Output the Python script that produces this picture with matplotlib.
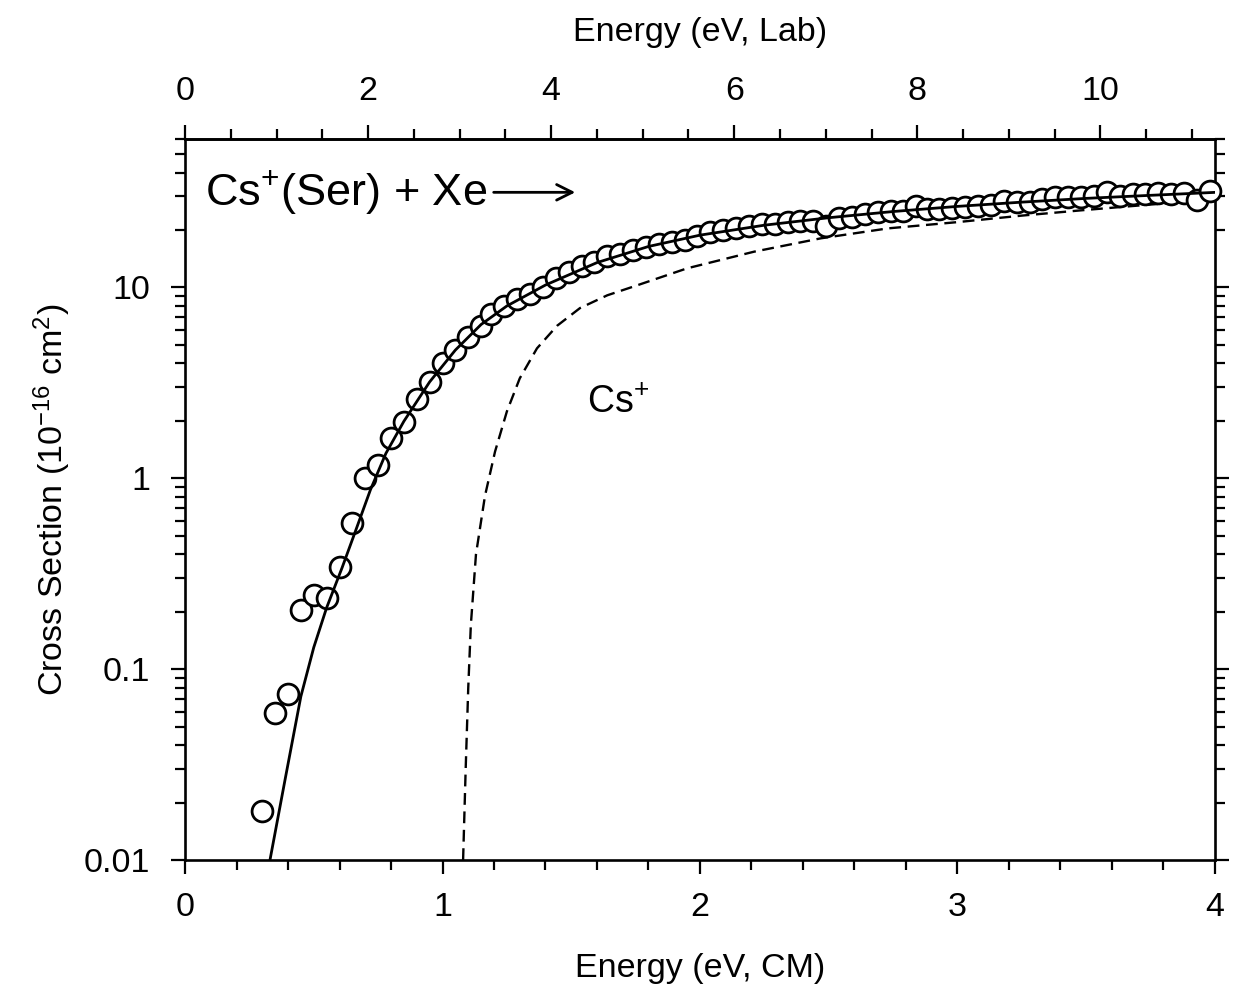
import numpy as np
import matplotlib.pyplot as plt
from matplotlib.ticker import MultipleLocator, FixedLocator, LogLocator, NullFormatter

plt.rcParams['font.family'] = 'Liberation Sans'
plt.rcParams['mathtext.fontset'] = 'custom'
plt.rcParams['mathtext.rm'] = 'Liberation Sans'
plt.rcParams['mathtext.it'] = 'Liberation Sans:italic'

# measured cross sections, Cs+(Ser) + Xe
e_cm = [0.30, 0.35, 0.40, 0.45, 0.50, 0.55, 0.60, 0.65, 0.70, 0.75,
        0.80, 0.85, 0.90, 0.95, 1.00, 1.05, 1.10, 1.15, 1.19, 1.24,
        1.29, 1.34, 1.39, 1.44, 1.49, 1.54, 1.59, 1.64, 1.69, 1.74,
        1.79, 1.84, 1.89, 1.94, 1.99, 2.04, 2.09, 2.14, 2.19, 2.24,
        2.29, 2.34, 2.39, 2.44, 2.49, 2.54, 2.59, 2.64, 2.69, 2.74,
        2.79, 2.84, 2.88, 2.93, 2.98, 3.03, 3.08, 3.13, 3.18, 3.23,
        3.28, 3.33, 3.38, 3.43, 3.48, 3.53, 3.58, 3.63, 3.68, 3.73,
        3.78, 3.83, 3.88, 3.93, 3.98]
sigma = [0.018, 0.059, 0.074, 0.205, 0.245, 0.235, 0.345, 0.58, 1.0, 1.17,
         1.62, 1.98, 2.6, 3.2, 4.0, 4.7, 5.5, 6.3, 7.3, 8.0,
         8.7, 9.2, 10.0, 11.2, 12.1, 12.9, 13.6, 14.6, 15.0, 15.8,
         16.3, 16.9, 17.3, 17.7, 18.6, 19.6, 19.9, 20.4, 20.9, 21.5,
         21.6, 22.1, 22.2, 22.2, 20.9, 23.0, 23.5, 24.3, 24.9, 25.1,
         25.3, 26.8, 25.9, 25.9, 26.2, 26.3, 26.6, 26.9, 28.4, 28.1,
         28.1, 29.1, 29.8, 29.9, 29.9, 30.3, 31.7, 30.3, 31.0, 31.0,
         31.4, 31.0, 31.4, 28.6, 32.2]

# model fit (solid)
fit_x = [0.33, 0.39, 0.45, 0.50, 0.55, 0.61, 0.66, 0.72, 0.78, 0.85,
         0.95, 1.05, 1.15, 1.25, 1.40, 1.60, 1.80, 2.00, 2.25, 2.50,
         2.75, 3.00, 3.25, 3.50, 3.75, 4.00]
fit_y = [0.010, 0.027, 0.072, 0.13, 0.21, 0.34, 0.52, 0.87, 1.35, 1.99,
         3.2, 4.7, 6.4, 8.0, 10.3, 13.5, 16.4, 18.8, 21.2, 23.2,
         25.0, 26.6, 28.0, 29.3, 30.4, 31.5]

# unconvoluted model (dashed)
cs_x = [1.080, 1.090, 1.100, 1.110, 1.130, 1.165, 1.204, 1.25, 1.30, 1.367,
        1.445, 1.534, 1.64, 1.75, 1.95, 2.21, 2.47, 2.73, 3.00, 3.25,
        3.50, 3.75, 4.00]
cs_y = [0.010, 0.03, 0.08, 0.17, 0.40, 0.81, 1.38, 2.24, 3.34, 4.8,
        6.3, 7.8, 9.1, 10.2, 12.6, 15.4, 18.1, 20.4, 22.0, 23.8,
        25.5, 27.2, 28.8]

lab_ticks = [0, 2, 4, 6, 8, 10]
lab_minor = np.arange(0, 11.5, 0.5)

MASS_RATIO = 2.813  # E_lab / E_cm
FS = 24.5

fig = plt.figure(figsize=(12.35, 9.99), dpi=100)
ax = fig.add_axes([0.1498, 0.1391, 0.834, 0.7218])

ax.plot(cs_x, cs_y, color='k', lw=1.7, linestyle=(0, (5, 2.8)), zorder=2)
ax.plot(e_cm, sigma, 'o', ms=15, mfc='white', mec='k', mew=2.0,
        zorder=3, clip_on=False)
ax.plot(fit_x, fit_y, color='k', lw=2.0, zorder=4)

ax.set_xlim(0, 4)
ax.set_yscale('log')
ax.set_ylim(0.01, 60)

ax.xaxis.set_major_locator(MultipleLocator(1))
ax.xaxis.set_minor_locator(MultipleLocator(0.2))
ax.yaxis.set_major_locator(FixedLocator([0.01, 0.1, 1, 10]))
ax.set_yticklabels(['0.01', '0.1', '1', '10'])
ax.yaxis.set_minor_locator(LogLocator(base=10, subs=np.arange(2, 10)))
ax.yaxis.set_minor_formatter(NullFormatter())

ax.tick_params(which='both', direction='out', width=1.6, labelsize=FS,
               top=False, right=True, bottom=True, left=True)
ax.tick_params(which='major', length=10)
ax.tick_params(which='minor', length=7)
ax.tick_params(axis='x', pad=13)
ax.tick_params(axis='y', pad=15)
for s in ax.spines.values():
    s.set_linewidth(1.9)

ax.set_xlabel('Energy (eV, CM)', fontsize=FS, va='center')
ax.xaxis.set_label_coords(0.5, -0.15)
ax.set_ylabel(r'Cross Section (10$^{-16}$ cm$^{2}$)', fontsize=FS, va='center')
ax.yaxis.set_label_coords(-0.129, 0.5)

secax = ax.secondary_xaxis('top', functions=(lambda x: x * MASS_RATIO,
                                             lambda x: x / MASS_RATIO))
secax.xaxis.set_major_locator(FixedLocator(lab_ticks))
secax.xaxis.set_minor_locator(FixedLocator(lab_minor))
secax.tick_params(which='both', direction='out', width=1.6, labelsize=FS, pad=13)
secax.tick_params(which='major', length=10)
secax.tick_params(which='minor', length=7)
secax.spines['top'].set_linewidth(1.9)
secax.set_xlabel('Energy (eV, Lab)', fontsize=FS, va='center')
secax.xaxis.set_label_coords(0.5, 1.148, transform=ax.transAxes)

ax.text(0.0194, 0.926, r'Cs$^{+}$(Ser) + Xe', transform=ax.transAxes,
        fontsize=32.5, va='center')
ax.annotate('', xy=(0.3816, 0.926), xytext=(0.297, 0.926),
            xycoords='axes fraction',
            arrowprops=dict(arrowstyle='->', lw=2.0, mutation_scale=28))
ax.text(1.56, 2.47, r'Cs$^{+}$', fontsize=27, va='center')

fig.savefig('out.png', dpi=100)
